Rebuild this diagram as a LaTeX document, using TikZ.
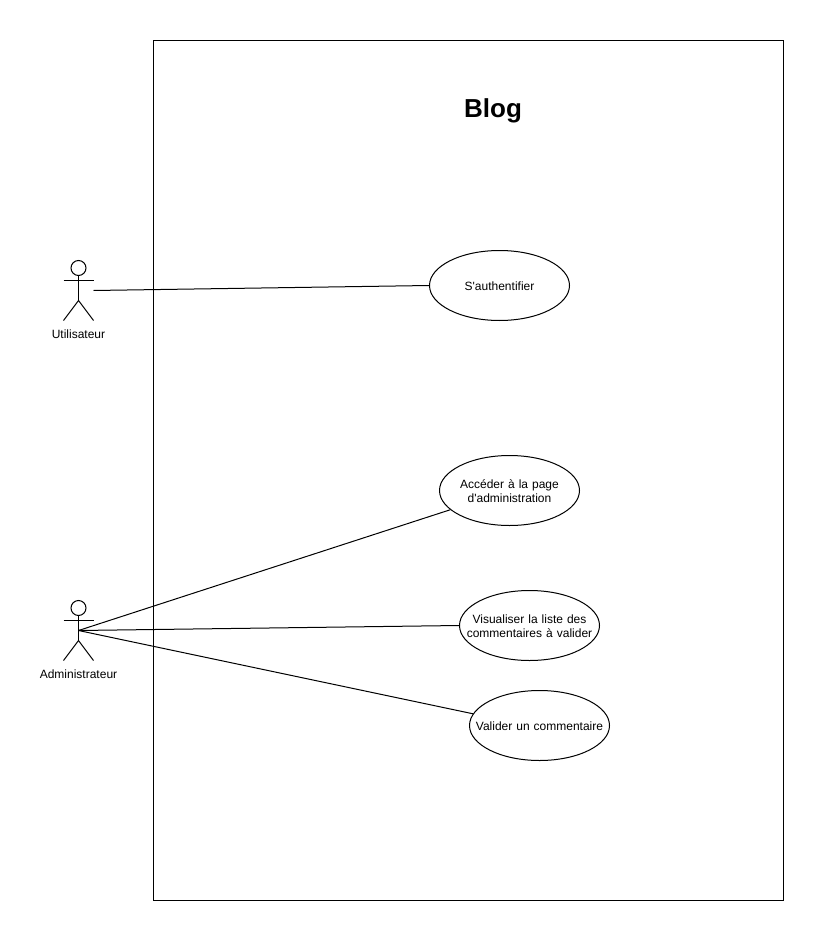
\documentclass[tikz,border=0pt]{standalone}
\usepackage{fontspec}
\setmainfont{Liberation Sans}
\usepackage{tikz}
\usetikzlibrary{shapes.geometric, positioning, calc}
\tikzset{
  font=\fontsize{9pt}{10.5pt}\selectfont,
  usecaseblock/.style={
    ellipse, draw=black, fill=white, line width=0.75pt,
    minimum width=105pt, minimum height=52.5pt, inner ysep=0pt, inner xsep=-14pt,
    align=center, text width=100pt,
    execute at begin node={\rule[-2pt]{0pt}{12.2pt}},
    execute at end node={\rule[-2pt]{0pt}{2pt}}
  },
  systembox/.style={rectangle, draw=black, fill=white, line width=0.75pt, minimum width=472.5pt, minimum height=645pt, inner sep=0pt},
  actorhead/.style={circle, draw=black, line width=0.75pt, minimum size=11.25pt, inner sep=0pt},
  actorlabel/.style={inner sep=0pt, align=center},
  titlelabel/.style={inner sep=0pt, font=\fontsize{19.5pt}{22pt}\selectfont\bfseries},
  flowline/.style={draw=black, line width=0.75pt}
}

\begin{document}
\begin{tikzpicture}[x=0.75pt, y=-0.75pt]
  \useasboundingbox (0,0) rectangle (824,941);

  % System boundary
  \node[systembox] (blog) at (468.5,470.5) {};
  \node[titlelabel] (title) at (493,111) {Blog};

  % Use cases
  \node[usecaseblock] (auth) at (499.5,285.5) {S\textquotesingle authentifier};
  \node[usecaseblock] (admin_page) at (509.5,490.5) {Accéder à la page\\d\textquotesingle administration};
  \node[usecaseblock] (list) at (529.5,625.5) {Visualiser la liste des\\commentaires à valider};
  \node[usecaseblock] (validate) at (539.5,725.5) {Valider un commentaire};

  % Actor: Utilisateur
  \node[actorhead] (user_head) at (78.5,268) {};
  \coordinate (user_hip) at (78.5,300.5);
  \coordinate (user_left) at (63.5,280.5);
  \coordinate (user_right) at (93.5,280.5);
  \coordinate (user_lfoot) at (63.5,320.5);
  \coordinate (user_rfoot) at (93.5,320.5);
  \coordinate (user_link) at (93.5,290.5);
  \draw[flowline] (user_head) -- (user_hip);
  \draw[flowline] (user_left) -- (user_right);
  \draw[flowline] (user_lfoot) -- (user_hip) -- (user_rfoot);
  \node[actorlabel] (user) at (78.5,334) {Utilisateur};

  % Actor: Administrateur
  \node[actorhead] (adm_head) at (78.5,608) {};
  \coordinate (adm_hip) at (78.5,640.5);
  \coordinate (adm_left) at (63.5,620.5);
  \coordinate (adm_right) at (93.5,620.5);
  \coordinate (adm_lfoot) at (63.5,660.5);
  \coordinate (adm_rfoot) at (93.5,660.5);
  \coordinate (adm_link) at (78.5,630.5);
  \draw[flowline] (adm_head) -- (adm_hip);
  \draw[flowline] (adm_left) -- (adm_right);
  \draw[flowline] (adm_lfoot) -- (adm_hip) -- (adm_rfoot);
  \node[actorlabel] (adm) at (78.5,674) {Administrateur};

  % Associations
  \draw[flowline] (user_link) -- (auth.west);
  \draw[flowline] (adm_link) -- (admin_page.198);
  \draw[flowline] (adm_link) -- (list.west);
  \draw[flowline] (adm_link) -- (validate.170);

\end{tikzpicture}
\end{document}
